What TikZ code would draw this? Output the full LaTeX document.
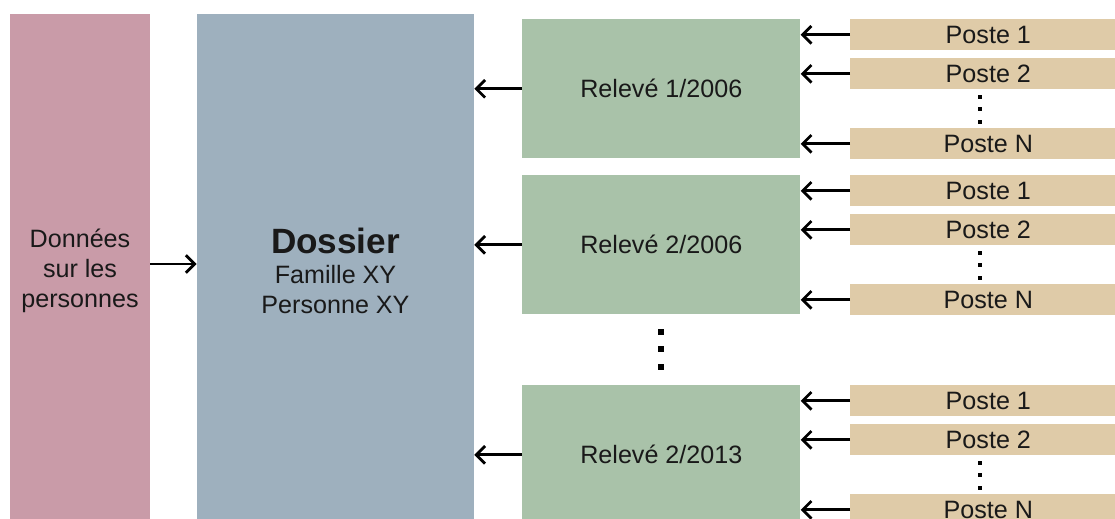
\documentclass[tikz,border=0pt]{standalone}
\usepackage{fontspec}
\setmainfont{Liberation Sans}
\usetikzlibrary{arrows.meta, positioning, calc}
\definecolor{personpink}{RGB}{201,155,168}
\definecolor{dossierblue}{RGB}{158,176,190}
\definecolor{relevegreen}{RGB}{169,194,169}
\definecolor{postetan}{RGB}{223,203,168}

\begin{document}
\begin{tikzpicture}[
    x=0.02cm, y=-0.02cm,
    txt/.style={font=\fontsize{14.3}{17}\selectfont, text=black!90},
    column/.style={rectangle, inner sep=0pt, minimum height=10.28cm, align=center, txt},
    relevebox/.style={rectangle, fill=relevegreen, inner sep=0pt, anchor=north west,
                minimum width=5.56cm, minimum height=2.78cm, txt},
    postebox/.style={rectangle, fill=postetan, inner sep=0pt, anchor=north west,
                minimum width=5.52cm, minimum height=0.62cm, txt},
    arrow/.style={-{Straight Barb[length=5pt, width=10pt]}, line width=1.6pt, black}
]
    \useasboundingbox (0,0) rectangle (1115,519);
    \clip (0,0) rectangle (1115,519);

    \node[column, fill=personpink, minimum width=2.8cm] (donnees) at (80,271)
        {Données\\sur les\\personnes};
    \node[column, fill=dossierblue, minimum width=5.54cm] (dossier) at (335.5,271)
        {{\fontsize{20}{22}\selectfont\bfseries Dossier}\\Famille XY\\Personne XY};
    \draw[arrow] ([yshift=0.14cm]donnees.east) -- ([yshift=0.14cm]dossier.west);

    % Releves with their postes
    \foreach \r/\top/\m/\yr in {a/19/1/2006, b/175/2/2006, c/385/2/2013} {
        \node[relevebox] (r\r) at (522,\top) {Relevé \m/\yr};
        \node[postebox] (p\r1) at (850,\top) {Poste 1};
        \node[postebox] (p\r2) at (850,\top+39) {Poste 2};
        \node[postebox] (p\r N) at (850,\top+109) {Poste N};
        \foreach \d in {78,90.5,103}
            \fill ($(p\r2.north)+(-8,\d-39)$) ++(-2,-2) rectangle ++(4,4);
        \foreach \p in {1,2,N}
            \draw[arrow] (p\r\p.west) -- (p\r\p.west -| r\r.east);
        \draw[arrow] (r\r.west) -- (r\r.west -| dossier.east);
    }

    % more releves
    \foreach \d in {332,349.5,367}
        \fill ($(rb.south)+(0,\d-315)$) ++(-3,-3) rectangle ++(6,6);
\end{tikzpicture}
\end{document}
